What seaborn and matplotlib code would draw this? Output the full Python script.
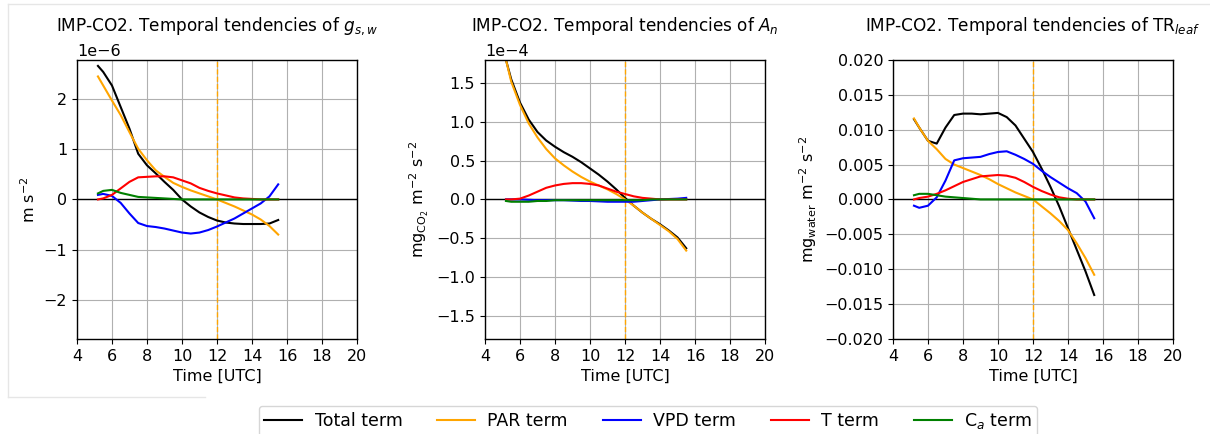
import numpy as np
import pandas as pd
import matplotlib
matplotlib.use("Agg")
import matplotlib.pyplot as plt
from matplotlib.lines import Line2D
import seaborn as sns

# ---- data ----
time = [5.2, 5.5, 6.0, 6.5, 7.0, 7.5, 8.0, 8.5, 9.0, 9.5, 10.0, 10.5,
        11.0, 11.5, 12.0, 12.5, 13.0, 13.5, 14.0, 14.5, 15.0, 15.5]

gs_total = np.array([2.66, 2.54, 2.27, 1.84, 1.41, 0.91, 0.68, 0.52, 0.35, 0.19, 0.00, -0.14,
                     -0.26, -0.35, -0.42, -0.46, -0.48, -0.49, -0.49, -0.49, -0.48, -0.41]) * 1e-6
gs_par = np.array([2.45, 2.27, 1.97, 1.68, 1.34, 1.01, 0.78, 0.58, 0.45, 0.33, 0.25, 0.18,
                   0.12, 0.06, 0.00, -0.07, -0.14, -0.22, -0.30, -0.40, -0.53, -0.70]) * 1e-6
gs_vpd = np.array([0.09, 0.11, 0.07, -0.07, -0.28, -0.47, -0.53, -0.55, -0.58, -0.62, -0.66, -0.68,
                   -0.66, -0.61, -0.54, -0.46, -0.38, -0.28, -0.18, -0.08, 0.06, 0.30]) * 1e-6
gs_t = np.array([0.00, 0.02, 0.09, 0.22, 0.35, 0.44, 0.45, 0.46, 0.46, 0.44, 0.38, 0.32,
                 0.23, 0.17, 0.12, 0.08, 0.04, 0.02, 0.01, 0.00, 0.00, 0.00]) * 1e-6
gs_ca = np.array([0.12, 0.17, 0.19, 0.13, 0.09, 0.05, 0.04, 0.03, 0.02, 0.01, 0.00, 0.00,
                  0.00, 0.00, 0.00, 0.00, 0.00, 0.00, 0.00, 0.00, 0.00, 0.00]) * 1e-6

an_total = np.array([1.80, 1.55, 1.25, 1.03, 0.87, 0.76, 0.68, 0.61, 0.55, 0.48, 0.40, 0.32,
                     0.23, 0.13, 0.02, -0.08, -0.17, -0.25, -0.32, -0.40, -0.49, -0.63]) * 1e-4
an_par = np.array([1.80, 1.52, 1.22, 0.98, 0.80, 0.65, 0.53, 0.44, 0.36, 0.29, 0.23, 0.18,
                   0.13, 0.07, 0.00, -0.08, -0.17, -0.25, -0.33, -0.41, -0.51, -0.66]) * 1e-4
an_vpd = np.array([0.00, 0.00, 0.00, -0.005, -0.01, -0.01, -0.01, -0.01, -0.015, -0.02, -0.02, -0.025,
                   -0.03, -0.03, -0.03, -0.03, -0.02, -0.01, 0.00, 0.005, 0.01, 0.02]) * 1e-4
an_t = np.array([0.00, 0.00, 0.01, 0.05, 0.10, 0.15, 0.18, 0.20, 0.21, 0.21, 0.20, 0.18,
                 0.14, 0.10, 0.07, 0.04, 0.02, 0.01, 0.00, 0.00, 0.00, 0.00]) * 1e-4
an_ca = np.array([-0.02, -0.03, -0.03, -0.03, -0.02, -0.02, -0.01, -0.01, -0.01, -0.01, -0.01, -0.01,
                  -0.01, -0.01, -0.01, -0.01, -0.01, 0.00, 0.00, 0.00, 0.00, 0.00]) * 1e-4

tr_total = [0.0115, 0.0103, 0.0084, 0.0080, 0.0103, 0.0121, 0.0123, 0.0123, 0.0122, 0.0123, 0.0124, 0.0118,
            0.0106, 0.0087, 0.0068, 0.0044, 0.0018, -0.0010, -0.0041, -0.0072, -0.0103, -0.0137]
tr_par = [0.0116, 0.0103, 0.0084, 0.0072, 0.0058, 0.0050, 0.0045, 0.0040, 0.0035, 0.0029, 0.0022, 0.0016,
          0.0010, 0.0005, 0.0000, -0.0010, -0.0020, -0.0031, -0.0044, -0.0063, -0.0084, -0.0108]
tr_vpd = [-0.0009, -0.0012, -0.0009, 0.0003, 0.0027, 0.0056, 0.0059, 0.0060, 0.0061, 0.0065, 0.0068, 0.0069,
          0.0064, 0.0058, 0.0051, 0.0041, 0.0032, 0.0024, 0.0016, 0.0009, -0.0003, -0.0027]
tr_t = [0.0000, 0.0002, 0.0004, 0.0008, 0.0013, 0.0019, 0.0025, 0.0029, 0.0033, 0.0034, 0.0035, 0.0034,
        0.0031, 0.0025, 0.0018, 0.0012, 0.0007, 0.0003, 0.0001, 0.0000, 0.0000, 0.0000]
tr_ca = [0.0006, 0.0008, 0.0008, 0.0006, 0.0004, 0.0003, 0.0002, 0.0001, 0.0000, 0.0000, 0.0000, 0.0000,
         0.0000, 0.0000, 0.0000, 0.0000, 0.0000, 0.0000, 0.0000, 0.0000, 0.0000, 0.0000]

terms = ["Total term", "PAR term", "VPD term", "T term", r"C$_a$ term"]
colors = ["black", "orange", "blue", "red", "green"]
titles = [r"IMP-CO2. Temporal tendencies of $g_{s,w}$",
          r"IMP-CO2. Temporal tendencies of $A_n$",
          r"IMP-CO2. Temporal tendencies of TR$_{leaf}$"]
ylabels = [r"m s$^{-2}$",
           r"mg$_{\mathrm{CO_2}}$ m$^{-2}$ s$^{-2}$",
           r"mg$_{\mathrm{water}}$ m$^{-2}$ s$^{-2}$"]
ylims = [(-2.78e-6, 2.78e-6), (-1.8e-4, 1.8e-4), (-0.02, 0.02)]
yticks = [[-2e-6, -1e-6, 0, 1e-6, 2e-6],
          [-1.5e-4, -1.0e-4, -0.5e-4, 0, 0.5e-4, 1.0e-4, 1.5e-4],
          [-0.02, -0.015, -0.01, -0.005, 0, 0.005, 0.01, 0.015, 0.02]]
panels = [[gs_total, gs_par, gs_vpd, gs_t, gs_ca],
          [an_total, an_par, an_vpd, an_t, an_ca],
          [tr_total, tr_par, tr_vpd, tr_t, tr_ca]]

plt.rcParams["font.family"] = ["DejaVu Sans"]
plt.rcParams["font.size"] = 11.5

fig = plt.figure(figsize=(12.1, 4.34), dpi=100)
lefts = [0.0636, 0.4008, 0.738]
palette = dict(zip(terms, colors))

for i in range(3):
    ax = fig.add_axes([lefts[i], 0.219, 0.2314, 0.643])
    frames = []
    for name, vals in zip(terms, panels[i]):
        frames.append(pd.DataFrame({"time": time, "value": np.asarray(vals, dtype=float), "term": name}))
    df = pd.concat(frames, ignore_index=True)
    sns.lineplot(data=df, x="time", y="value", hue="term", hue_order=terms,
                 palette=palette, linewidth=1.5, ax=ax, legend=(i == 0), sort=False)
    ax.axhline(0, color="black", linewidth=1.0, zorder=1)
    ax.axvline(12, color="orange", linestyle="--", linewidth=1.0, zorder=1)
    ax.set_xlim(4, 20)
    ax.set_xticks([4, 6, 8, 10, 12, 14, 16, 18, 20])
    ax.set_ylim(*ylims[i])
    ax.set_yticks(yticks[i])
    if i < 2:
        ax.ticklabel_format(axis="y", style="sci", scilimits=(0, 0))
    else:
        ax.set_yticklabels([f"{v:.3f}".replace("-", "\u2212") for v in yticks[i]])
    ax.grid(True, color="#b0b0b0", linewidth=0.8)
    ax.set_axisbelow(True)
    ax.set_xlabel("Time [UTC]")
    ax.set_ylabel(ylabels[i])
    ax.set_title(titles[i], fontsize=12.2, pad=21)
    for s in ax.spines.values():
        s.set_color("black")
        s.set_linewidth(1.0)
    if i == 0:
        handles, labels = ax.get_legend_handles_labels()
        ax.get_legend().remove()

fig.legend(handles, labels, loc="upper center", bbox_to_anchor=(648 / 1210, 1 - 406 / 434),
           borderaxespad=0.0, borderpad=0.3,
           ncol=5, frameon=True, fontsize=12.5, columnspacing=2.0, handlelength=2.2,
           handletextpad=0.7)

# faint frame lines of the original screenshot
px = lambda x, y: (x / 1210, 1 - y / 434)
for (x0, y0), (x1, y1) in [((8, 4), (1210, 4)), ((8, 4), (8, 397)), ((8, 397), (205, 397))]:
    a, b = px(x0, y0), px(x1, y1)
    fig.add_artist(Line2D([a[0], b[0]], [a[1], b[1]], transform=fig.transFigure,
                          color="#e6e6e6", linewidth=1.0))

fig.savefig("out.png", dpi=100)
